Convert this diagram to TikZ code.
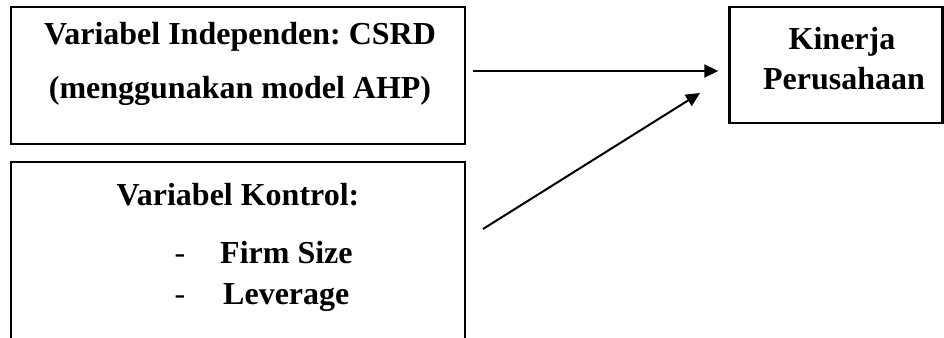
\documentclass[tikz,border=0pt]{standalone}
\usepackage{fontspec}
\setmainfont{Liberation Serif}
\frenchspacing
\usetikzlibrary{arrows.meta,positioning}

\begin{document}
\begin{tikzpicture}[x=1pt,y=-1pt,>={Triangle[length=14pt,width=13pt]},
box node/.style={draw,line width=2.4pt,inner sep=0pt},
box text/.style={font=\bfseries\fontsize{32}{38}\selectfont,anchor=base,inner sep=0pt}]

\clip (0,0) rectangle (944,337);

\node[box node,minimum width=454pt,minimum height=137pt] (csrd) at (238,75.5) {};
\node[box node,minimum width=454pt,minimum height=200pt] (kontrol) at (238,262) {};
\node[box node,minimum width=213pt,minimum height=116pt] (kinerja) at (836,65) {};

% isi kotak
\node[box text] (csrd1) at (240,45) {Variabel Independen: CSRD};
\node[box text] (csrd2) at (240,98) {(menggunakan model AHP)};
\node[box text] (kin1) at (842,50) {Kinerja};
\node[box text] (kin2) at (844,89) {Perusahaan};
\node[box text] (judul) at (238,205) {Variabel Kontrol:};
\node[box text,anchor=base west] (firm) at (220,263) {Firm Size};
\node[box text,anchor=base west] (lev) at (223,304) {Leverage};
\coordinate (dx) at (180,0);
\node[box text,font=\fontsize{32}{38}\selectfont] (d1) at (firm.base -| dx) {-};
\node[box text,font=\fontsize{32}{38}\selectfont] (d2) at (lev.base -| dx) {-};

\coordinate (a1) at (473,71);
\coordinate (a2) at (483,229);
\coordinate (t2) at (700,93);

\path[->,line width=2pt]
(a1) edge[shorten >=10pt] (a1 -| kinerja.west)
(a2) edge (t2);
\end{tikzpicture}
\end{document}
